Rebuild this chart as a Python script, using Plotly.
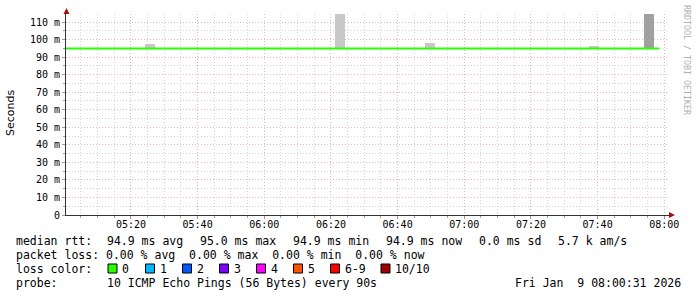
import plotly.graph_objects as go
import pandas as pd

# ---------------- data ----------------
line_times = ["2026-01-09 05:00:31", "2026-01-09 06:00:00", "2026-01-09 07:00:00", "2026-01-09 07:58:30"]
line_ms = [94.9, 94.9, 94.9, 94.9]

smoke_centers = ["2026-01-09 05:25:40", "2026-01-09 06:22:40", "2026-01-09 06:49:40",
                 "2026-01-09 07:39:00", "2026-01-09 07:55:30"]
smoke_top_ms = [97.5, 115.0, 98.0, 96.3, 115.0]
smoke_base_ms = 94.9
smoke_colors = ["#c8c8c8", "#c8c8c8", "#c8c8c8", "#c8c8c8", "#a0a0a0"]

y_tick_vals = [0, 10, 20, 30, 40, 50, 60, 70, 80, 90, 100, 110]
y_tick_text = ["0", "10 m", "20 m", "30 m", "40 m", "50 m", "60 m", "70 m", "80 m", "90 m", "100 m", "110 m"]

legend_lines = [
    [("median rtt:", 16), ("94.9 ms avg", 107), ("95.0 ms max", 200), ("94.9 ms min", 293),
     ("94.9 ms now", 386), ("0.0 ms sd", 479), ("5.7 k am/s", 558)],
    [("packet loss: 0.00 % avg  0.00 % max  0.00 % min  0.00 % now", 16)],
    [("loss color:", 16)],
    [("probe:", 16), ("10 ICMP Echo Pings (56 Bytes) every 90s", 107)],
]
loss_labels = ["0", "1", "2", "3", "4", "5", "6-9", "10/10"]
loss_colors = ["#26ff00", "#00b8ff", "#0059ff", "#7e00ff", "#ff00fe", "#ff5500", "#ff0000", "#a10000"]
stamp = "Fri Jan  9 08:00:31 2026"

# ---------------- layout helpers ----------------
W, H = 697, 297
L, R, T, B = 66, 697 - 669, 14, 297 - 215
PW, PH = W - L - R, H - T - B


def px(x):
    return (x - L) / PW


def py(y):
    return (H - B - y) / PH


mono = "DejaVu Sans Mono"
fig = go.Figure()

for c, top, col in zip(smoke_centers, smoke_top_ms, smoke_colors):
    fig.add_trace(go.Bar(x=[pd.Timestamp(c)], y=[top - smoke_base_ms], base=[smoke_base_ms],
                         width=[180000], marker=dict(color=col, line=dict(width=0)),
                         showlegend=False, hoverinfo="skip"))

fig.add_trace(go.Scatter(x=pd.to_datetime(line_times), y=line_ms, mode="lines",
                         line=dict(color="#26ff00", width=2), showlegend=False, hoverinfo="skip"))

major = "#ebb4b4"
minorc = "#d4d4d4"

fig.update_layout(
    width=W, height=H, margin=dict(l=L, r=R, t=T, b=B),
    paper_bgcolor="white", plot_bgcolor="white", bargap=0, barmode="overlay",
    font=dict(family=mono, size=10, color="#000"),
    xaxis=dict(type="date",
               range=[pd.Timestamp("2026-01-09 05:00:31"), pd.Timestamp("2026-01-09 08:01:25")],
               tick0="2026-01-09 05:20:00", dtick=1200000, tickformat="%H:%M",
               showgrid=True, gridcolor=major, griddash="1px,2px", gridwidth=1,
               ticks="outside", ticklen=3, tickcolor="#d08080", ticklabelstandoff=-3,
               minor=dict(dtick=300000, tick0="2026-01-09 05:00:00", showgrid=True, gridcolor=minorc,
                          griddash="1px,2px", ticks="outside", ticklen=2, tickcolor="#a0a0a0"),
               showline=True, linecolor="#333", linewidth=1, zeroline=False,
               tickfont=dict(family=mono, size=10, color="#000")),
    yaxis=dict(range=[0, 114.6], tickmode="array", tickvals=y_tick_vals, ticktext=y_tick_text,
               showgrid=True, gridcolor=major, griddash="1px,2px", gridwidth=1,
               ticks="outside", ticklen=3, tickcolor="#a0a0a0",
               minor=dict(tickmode="array", tickvals=[v + 5 for v in y_tick_vals], showgrid=True,
                          gridcolor=minorc, griddash="1px,2px", ticks="outside", ticklen=2,
                          tickcolor="#a0a0a0"),
               showline=True, linecolor="#333", linewidth=1, zeroline=False,
               tickfont=dict(family=mono, size=10, color="#000")),
)

anns = []
# y title
anns.append(dict(text="Seconds", x=px(10), y=py(113), xref="paper", yref="paper", textangle=-90,
                 showarrow=False, font=dict(family="DejaVu Sans", size=11, color="#000"),
                 xanchor="center", yanchor="middle"))
# watermark
anns.append(dict(text="RRDTOOL / TOBI OETIKER", x=px(687), y=py(60), xref="paper", yref="paper",
                 textangle=90, showarrow=False, font=dict(family=mono, size=8.3, color="#b0b0b0"),
                 xanchor="center", yanchor="middle"))

line_y = [241, 255, 268.5, 282.5]
for row, yy in zip(legend_lines, line_y):
    for txt, xx in row:
        anns.append(dict(text=txt.replace(" ", "\u00a0"), x=px(xx), y=py(yy), xref="paper", yref="paper",
                         showarrow=False, xanchor="left", yanchor="middle", borderpad=0, borderwidth=0,
                         font=dict(family=mono, size=11.5, color="#000")))
anns.append(dict(text=stamp.replace(" ", "\u00a0"), x=px(681), y=py(282.5), xref="paper", yref="paper",
                 showarrow=False, xanchor="right", yanchor="middle", borderpad=0, borderwidth=0,
                 font=dict(family=mono, size=11.5, color="#000")))

shapes = []
box_x = [108, 145.5, 182.5, 219.5, 256.5, 293.5, 330.5, 381]
for bx, lab, col in zip(box_x, loss_labels, loss_colors):
    shapes.append(dict(type="rect", xref="paper", yref="paper", x0=px(bx), x1=px(bx + 9),
                       y0=py(273), y1=py(264), fillcolor=col, line=dict(color="#000", width=1)))
    anns.append(dict(text=lab, x=px(bx + 14), y=py(268.5), xref="paper", yref="paper",
                     showarrow=False, xanchor="left", yanchor="middle", borderpad=0, borderwidth=0,
                     font=dict(family=mono, size=11.5, color="#000")))

# axis arrows
arrow = "#a01010"
shapes.append(dict(type="path", xref="paper", yref="paper",
                   path=f"M {px(66.5)} {py(8)} L {px(63.5)} {py(14)} L {px(69.5)} {py(14)} Z",
                   fillcolor=arrow, line=dict(color=arrow, width=0)))
shapes.append(dict(type="path", xref="paper", yref="paper",
                   path=f"M {px(675)} {py(215)} L {px(669)} {py(212)} L {px(669)} {py(218)} Z",
                   fillcolor=arrow, line=dict(color=arrow, width=0)))

fig.update_layout(annotations=anns, shapes=shapes)
fig.write_html("out.html", config={"displayModeBar": False})
